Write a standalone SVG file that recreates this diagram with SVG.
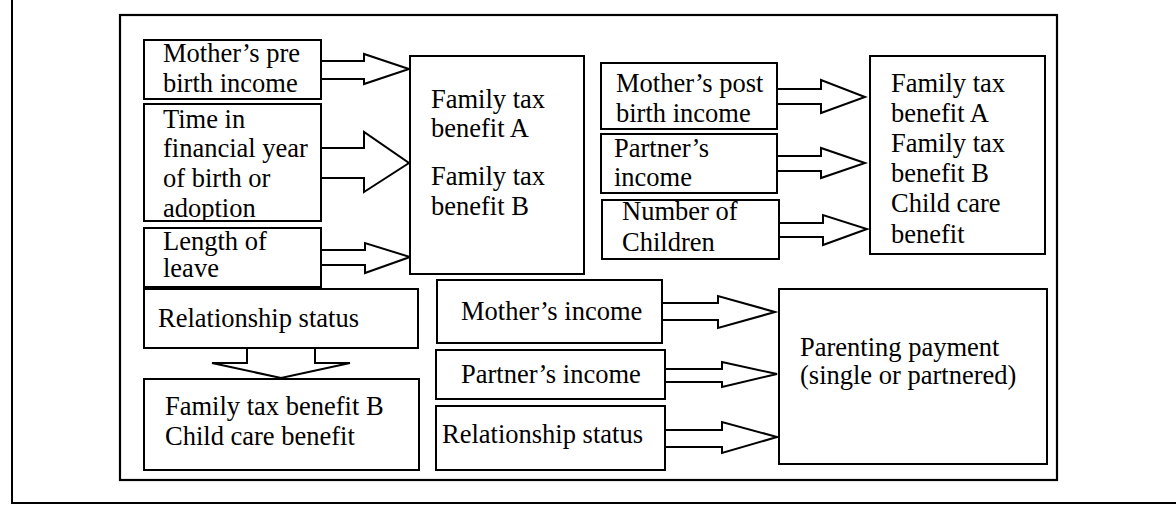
<svg xmlns="http://www.w3.org/2000/svg" width="1176" height="505" viewBox="0 0 1176 505">
<style>
  .box { fill: #ffffff; stroke: #000000; stroke-width: 2; }
  .frame { fill: #ffffff; stroke: #000000; stroke-width: 2.2; }
  .page { fill: none; stroke: #000000; stroke-width: 2; }
  .arr { fill: #ffffff; stroke: #000000; stroke-width: 2; stroke-linejoin: miter; }
  text { font-family: "Liberation Serif", "Times New Roman", serif; font-size: 26.5px; fill: #000000; }
</style>
<defs>
  <clipPath id="clipTime"><rect x="145" y="105" width="175" height="115"/></clipPath>
  <clipPath id="clipRight"><rect x="871" y="57" width="173" height="186"/></clipPath>
</defs>
<rect x="0" y="0" width="1176" height="505" fill="#ffffff"/>
<path class="page" d="M12,0 V503 H1176"/>
<rect class="frame" x="120" y="15" width="937" height="465"/>

<g id="connectors">
  <path class="arr" d="M321,61 H364 V54 L409,69 L364,84 V79 H321"/>
  <path class="arr" d="M321,148 H364 V132 L409,163 L364,192 V178 H321"/>
  <path class="arr" d="M321,250 H365 V243 L410,257 L365,273 V265 H321"/>
  <path class="arr" d="M777,89 H821 V80 L865,97 L821,113 V104 H777"/>
  <path class="arr" d="M777,156 H821 V148 L865,163 L821,178 V171 H777"/>
  <path class="arr" d="M779,223 H823 V215 L867,229 L823,245 V237 H779"/>
  <path class="arr" d="M247,348 V363 H212 L281,378 L350,363 H315 V348"/>
  <path class="arr" d="M662,303 H718 V296 L775,312 L718,328 V320 H662"/>
  <path class="arr" d="M665,369 H722 V362 L777,374 L722,387 V382 H665"/>
  <path class="arr" d="M665,430 H722 V422 L777,437 L722,453 V447 H665"/>
</g>

<g id="n-mother-pre">
  <rect class="box" x="144" y="40" width="177" height="59"/>
  <text x="163" y="62">Mother’s pre</text>
  <text x="163" y="92">birth income</text>
</g>
<g id="n-time">
  <rect class="box" x="144" y="104" width="177" height="117"/>
  <g clip-path="url(#clipTime)">
    <text x="163" y="128">Time in</text>
    <text x="163" y="157">financial year</text>
    <text x="163" y="187">of birth or</text>
    <text x="163" y="217">adoption</text>
  </g>
</g>
<g id="n-length">
  <rect class="box" x="144" y="228" width="177" height="59"/>
  <text x="163" y="250">Length of</text>
  <text x="163" y="277">leave</text>
</g>
<g id="n-ftb-ab">
  <rect class="box" x="410" y="56" width="174" height="218"/>
  <text x="431" y="108">Family tax</text>
  <text x="431" y="137">benefit A</text>
  <text x="431" y="185">Family tax</text>
  <text x="431" y="215">benefit B</text>
</g>
<g id="n-mother-post">
  <rect class="box" x="601" y="63" width="176" height="66"/>
  <text x="616" y="92">Mother’s post</text>
  <text x="616" y="122">birth income</text>
</g>
<g id="n-partner-top">
  <rect class="box" x="601" y="134" width="176" height="59"/>
  <text x="614" y="157">Partner’s</text>
  <text x="614" y="186">income</text>
</g>
<g id="n-children">
  <rect class="box" x="602" y="200" width="177" height="59"/>
  <text x="622" y="220">Number of</text>
  <text x="622" y="251">Children</text>
</g>
<g id="n-ftb-right">
  <rect class="box" x="870" y="56" width="175" height="198"/>
  <g clip-path="url(#clipRight)">
    <text x="891" y="92">Family tax</text>
    <text x="891" y="122">benefit A</text>
    <text x="891" y="152">Family tax</text>
    <text x="891" y="182">benefit B</text>
    <text x="891" y="212">Child care</text>
    <text x="891" y="243">benefit</text>
  </g>
</g>
<g id="n-rel-left">
  <rect class="box" x="144" y="289" width="274" height="59"/>
  <text x="158" y="327">Relationship status</text>
</g>
<g id="n-ftb-b-ccb">
  <rect class="box" x="144" y="379" width="275" height="91"/>
  <text x="165" y="415">Family tax benefit B</text>
  <text x="165" y="445">Child care benefit</text>
</g>
<g id="n-mother-income">
  <rect class="box" x="437" y="280" width="225" height="63"/>
  <text x="461" y="320">Mother’s income</text>
</g>
<g id="n-partner-income">
  <rect class="box" x="436" y="350" width="229" height="49"/>
  <text x="461" y="383">Partner’s income</text>
</g>
<g id="n-rel-mid">
  <rect class="box" x="436" y="406" width="229" height="64"/>
  <text x="442" y="443">Relationship status</text>
</g>
<g id="n-parenting">
  <rect class="box" x="779" y="289" width="268" height="175"/>
  <text x="800" y="356">Parenting payment</text>
  <text x="800" y="384">(single or partnered)</text>
</g>
</svg>
